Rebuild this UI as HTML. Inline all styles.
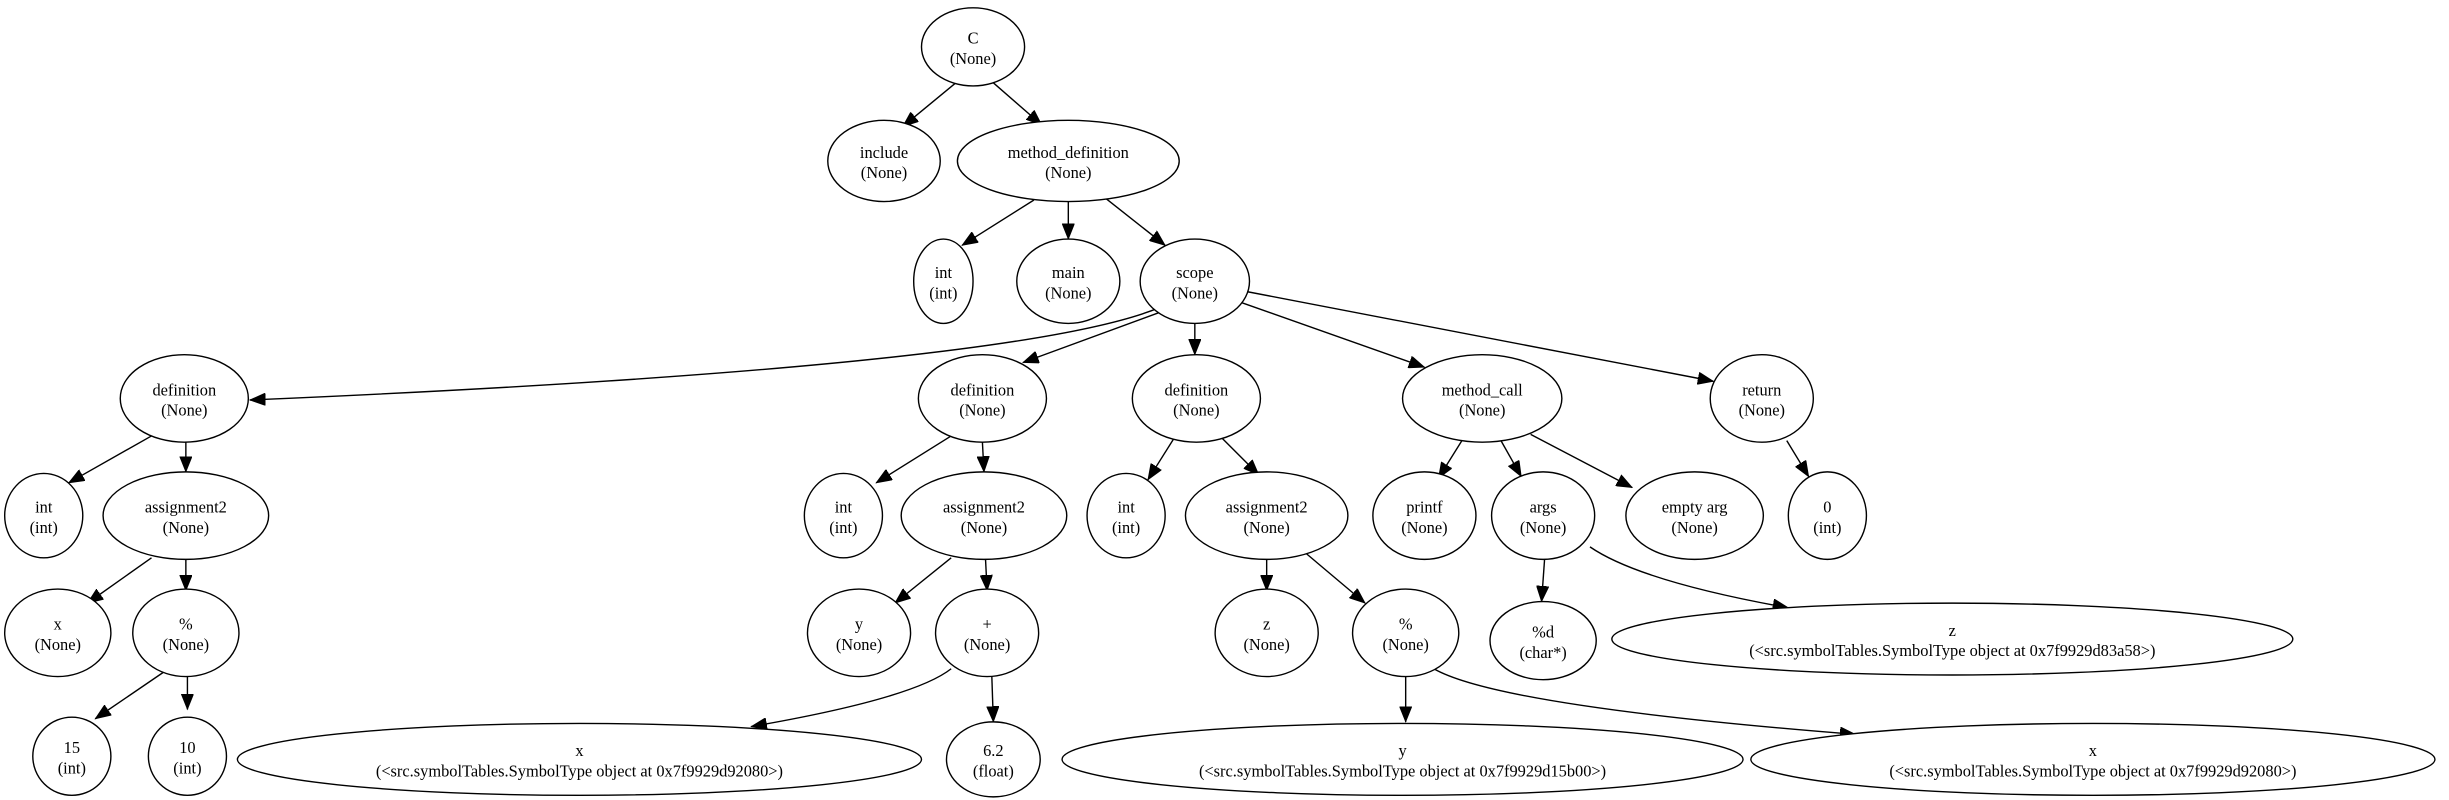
<!DOCTYPE html>
<html><head><meta charset="utf-8"><style>
html,body{margin:0;padding:0;background:#fff;}
svg{display:block;}
text{font-family:"Liberation Serif",serif;font-size:10.5px;fill:#000;text-anchor:middle;}
ellipse{fill:#fff;stroke:#000;stroke-width:0.9;}
path{fill:none;stroke:#000;stroke-width:0.9;}
</style></head><body>
<svg width="2449" height="800" viewBox="0 0 1568 512" preserveAspectRatio="none" xmlns="http://www.w3.org/2000/svg">
<defs><marker id="a" markerUnits="userSpaceOnUse" markerWidth="11" markerHeight="8" refX="10" refY="4" orient="auto"><path d="M0,0 L10,4 L0,8 Z" style="fill:#000;stroke:#000;stroke-width:0.5"/></marker></defs>
<g marker-end="url(#a)">
<path d="M612,53 L578,81"/>
<path d="M636,53 L667,80"/>
<path d="M662,128 L616,157"/>
<path d="M684,129 L684,153"/>
<path d="M708,127 L746,157"/>
<path d="M742,197 Q650,235 160,256"/>
<path d="M745,199 L655,232"/>
<path d="M765,207 L765,227"/>
<path d="M793,193 L912,235"/>
<path d="M795,186 L1097,244"/>
<path d="M97,279 L44,309"/>
<path d="M119,283 L119,302"/>
<path d="M97,357 L56,386"/>
<path d="M119,358 L119,378"/>
<path d="M105,430 L61,460"/>
<path d="M120,432 L120,454"/>
<path d="M609,279 L561,309"/>
<path d="M629,283 L630,302"/>
<path d="M609,357 L573,386"/>
<path d="M631,358 L632,378"/>
<path d="M609,428 Q585,447 481,465"/>
<path d="M635,432 L636,462"/>
<path d="M752,280 L735,307"/>
<path d="M782,280 L806,304"/>
<path d="M811,358 L811,378"/>
<path d="M836,354 L874,386"/>
<path d="M900,432 L900,462"/>
<path d="M918,428 Q960,452 1188,470"/>
<path d="M936,282 L921,306"/>
<path d="M961,282 L974,305"/>
<path d="M980,278 L1045,312"/>
<path d="M1144,282 L1158,305"/>
<path d="M989,357 L987,385"/>
<path d="M1018,350 Q1050,372 1145,389"/>
</g>
<g>
<ellipse cx="623" cy="30" rx="33" ry="25"/><text x="623" y="28">C</text><text x="623" y="41">(None)</text>
<ellipse cx="566" cy="103" rx="36" ry="26"/><text x="566" y="101">include</text><text x="566" y="114">(None)</text>
<ellipse cx="684" cy="103" rx="71" ry="26"/><text x="684" y="101">method_definition</text><text x="684" y="114">(None)</text>
<ellipse cx="604" cy="180" rx="19" ry="27"/><text x="604" y="178">int</text><text x="604" y="191">(int)</text>
<ellipse cx="684" cy="180" rx="33" ry="27"/><text x="684" y="178">main</text><text x="684" y="191">(None)</text>
<ellipse cx="765" cy="180" rx="35" ry="27"/><text x="765" y="178">scope</text><text x="765" y="191">(None)</text>
<ellipse cx="118" cy="255" rx="41" ry="28"/><text x="118" y="253">definition</text><text x="118" y="266">(None)</text>
<ellipse cx="629" cy="255" rx="41" ry="28"/><text x="629" y="253">definition</text><text x="629" y="266">(None)</text>
<ellipse cx="766" cy="255" rx="41" ry="28"/><text x="766" y="253">definition</text><text x="766" y="266">(None)</text>
<ellipse cx="949" cy="255" rx="51" ry="28"/><text x="949" y="253">method_call</text><text x="949" y="266">(None)</text>
<ellipse cx="1128" cy="255" rx="33" ry="28"/><text x="1128" y="253">return</text><text x="1128" y="266">(None)</text>
<ellipse cx="28" cy="330" rx="25" ry="27"/><text x="28" y="328">int</text><text x="28" y="341">(int)</text>
<ellipse cx="119" cy="330" rx="53" ry="28"/><text x="119" y="328">assignment2</text><text x="119" y="341">(None)</text>
<ellipse cx="540" cy="330" rx="25" ry="27"/><text x="540" y="328">int</text><text x="540" y="341">(int)</text>
<ellipse cx="630" cy="330" rx="53" ry="28"/><text x="630" y="328">assignment2</text><text x="630" y="341">(None)</text>
<ellipse cx="721" cy="330" rx="25" ry="27"/><text x="721" y="328">int</text><text x="721" y="341">(int)</text>
<ellipse cx="811" cy="330" rx="52" ry="28"/><text x="811" y="328">assignment2</text><text x="811" y="341">(None)</text>
<ellipse cx="912" cy="330" rx="33" ry="28"/><text x="912" y="328">printf</text><text x="912" y="341">(None)</text>
<ellipse cx="988" cy="330" rx="33" ry="28"/><text x="988" y="328">args</text><text x="988" y="341">(None)</text>
<ellipse cx="1085" cy="330" rx="44" ry="28"/><text x="1085" y="328">empty arg</text><text x="1085" y="341">(None)</text>
<ellipse cx="1170" cy="330" rx="25" ry="28"/><text x="1170" y="328">0</text><text x="1170" y="341">(int)</text>
<ellipse cx="37" cy="405" rx="34" ry="28"/><text x="37" y="403">x</text><text x="37" y="416">(None)</text>
<ellipse cx="119" cy="405" rx="34" ry="28"/><text x="119" y="403">%</text><text x="119" y="416">(None)</text>
<ellipse cx="550" cy="405" rx="33" ry="28"/><text x="550" y="403">y</text><text x="550" y="416">(None)</text>
<ellipse cx="632" cy="405" rx="33" ry="28"/><text x="632" y="403">+</text><text x="632" y="416">(None)</text>
<ellipse cx="811" cy="405" rx="33" ry="28"/><text x="811" y="403">z</text><text x="811" y="416">(None)</text>
<ellipse cx="900" cy="405" rx="34" ry="28"/><text x="900" y="403">%</text><text x="900" y="416">(None)</text>
<ellipse cx="988" cy="410" rx="34" ry="25"/><text x="988" y="408">%d</text><text x="988" y="421">(char*)</text>
<ellipse cx="1250" cy="409" rx="218" ry="23"/><text x="1250" y="407">z</text><text x="1250" y="420">(&lt;src.symbolTables.SymbolType object at 0x7f9929d83a58&gt;)</text>
<ellipse cx="46" cy="484" rx="25" ry="25"/><text x="46" y="482">15</text><text x="46" y="495">(int)</text>
<ellipse cx="120" cy="484" rx="25" ry="25"/><text x="120" y="482">10</text><text x="120" y="495">(int)</text>
<ellipse cx="371" cy="486" rx="219" ry="23"/><text x="371" y="484">x</text><text x="371" y="497">(&lt;src.symbolTables.SymbolType object at 0x7f9929d92080&gt;)</text>
<ellipse cx="636" cy="486" rx="30" ry="24"/><text x="636" y="484">6.2</text><text x="636" y="497">(float)</text>
<ellipse cx="898" cy="486" rx="218" ry="23"/><text x="898" y="484">y</text><text x="898" y="497">(&lt;src.symbolTables.SymbolType object at 0x7f9929d15b00&gt;)</text>
<ellipse cx="1340" cy="486" rx="219" ry="23"/><text x="1340" y="484">x</text><text x="1340" y="497">(&lt;src.symbolTables.SymbolType object at 0x7f9929d92080&gt;)</text>
</g>
</svg>
</body></html>
